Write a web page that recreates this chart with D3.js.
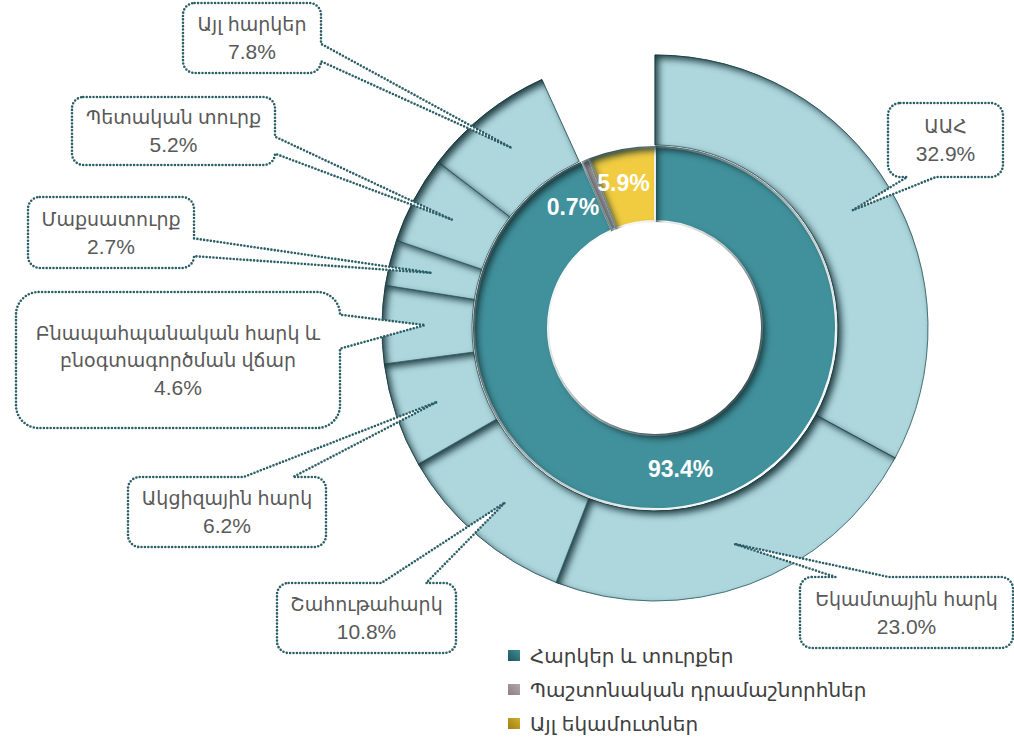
<!DOCTYPE html>
<html>
<head>
<meta charset="utf-8">
<script src="https://cdnjs.cloudflare.com/ajax/libs/d3/7.8.5/d3.min.js"></script>
<style>
  body { margin: 0; background: #fff; }
  svg text { font-family: "Liberation Sans", "DejaVu Sans", sans-serif; }
</style>
</head>
<body>
<script>
// Inner ring: revenue sources (%)
var sourceNames = ["Հարկեր և տուրքեր", "Պաշտոնական դրամաշնորհներ", "Այլ եկամուտներ"];
var sourceValues = [93.4, 0.7, 5.9];
var sourceLabels = ["93.4%", "0.7%", "5.9%"];

// Outer ring: taxes, share of total revenue (%)
var taxNames = [
    ["ԱԱՀ"],
    ["Եկամտային հարկ"],
    ["Շահութահարկ"],
    ["Ակցիզային հարկ"],
    ["Բնապահպանական հարկ և", "բնօգտագործման վճար"],
    ["Մաքսատուրք"],
    ["Պետական տուրք"],
    ["Այլ հարկեր"]
];
var taxValues = [32.9, 23.0, 10.8, 6.2, 4.6, 2.7, 5.2, 7.8];
var taxLabels = ["32.9%", "23.0%", "10.8%", "6.2%", "4.6%", "2.7%", "5.2%", "7.8%"];

// colours
var sourceColors = ["#41919c", "#a99b9e", "#f2cc40"];
var legendColors = [["#1d545b", "#3f8e98"], ["#8c7e81", "#b3a8aa"], ["#9d7f14", "#d2ae2c"]];
var taxColor = "#add6dd";

// callout boxes [x, y, w, h] for each tax, and label nudges for the inner ring
var boxes = [
    [888, 103, 115, 74],
    [800, 577, 213, 71],
    [277, 583, 179, 70],
    [128, 477, 198, 70],
    [16, 292, 324, 136],
    [28, 197, 166, 71],
    [72, 97, 203, 68],
    [183, 3, 138, 70]
];
var innerNudge = [[-4, 0], [-27, 12], [-5, -4]];

var width = 1014, height = 738;
var cx = 655, cy = 328;

var svg = d3.select("body").append("svg")
    .attr("width", width)
    .attr("height", height);

// inner shadow filter
var defs = svg.append("defs");
var f = defs.append("filter").attr("id", "inset")
    .attr("color-interpolation-filters", "sRGB")
    .attr("x", "-10%").attr("y", "-10%").attr("width", "120%").attr("height", "120%");
f.append("feComponentTransfer").attr("in", "SourceAlpha").attr("result", "inv")
    .append("feFuncA").attr("type", "table").attr("tableValues", "1 0");
f.append("feGaussianBlur").attr("in", "inv").attr("stdDeviation", 3.5).attr("result", "blur");
f.append("feOffset").attr("in", "blur").attr("dx", 4).attr("dy", 4).attr("result", "off");
f.append("feFlood").attr("flood-color", "#0f2c31").attr("flood-opacity", 0.9).attr("result", "col");
f.append("feComposite").attr("in", "col").attr("in2", "off").attr("operator", "in").attr("result", "sh");
f.append("feComposite").attr("in", "sh").attr("in2", "SourceAlpha").attr("operator", "in").attr("result", "ish");
var merge = f.append("feMerge");
merge.append("feMergeNode").attr("in", "SourceGraphic");
merge.append("feMergeNode").attr("in", "ish");

legendColors.forEach(function (c, i) {
    var g = defs.append("linearGradient").attr("id", "lg" + i)
        .attr("x1", "0").attr("y1", "1").attr("x2", "1").attr("y2", "0");
    g.append("stop").attr("offset", "0").attr("stop-color", c[0]);
    g.append("stop").attr("offset", "1").attr("stop-color", c[1]);
});

var chart = svg.append("g").attr("transform", "translate(" + cx + "," + cy + ")");

// outer ring, on a 100% scale so the rest stays empty
var outerPie = d3.pie().sort(null)
    .endAngle(2 * Math.PI * d3.sum(taxValues) / 100);
var outerArc = d3.arc().innerRadius(183).outerRadius(273);
var tipArc = d3.arc().innerRadius(230).outerRadius(230);

var outer = outerPie(taxValues);
chart.selectAll(".tax")
    .data(outer)
    .enter().append("path")
    .attr("class", "tax")
    .attr("d", outerArc)
    .attr("fill", taxColor)
    .attr("stroke", "#3a6a70")
    .attr("stroke-width", 0.9)
    .attr("filter", "url(#inset)");

// inner ring
var innerPie = d3.pie().sort(null);
var innerArc = d3.arc().innerRadius(107).outerRadius(181);
var inner = innerPie(sourceValues);
chart.selectAll(".src")
    .data(inner)
    .enter().append("path")
    .attr("class", "src")
    .attr("d", innerArc)
    .attr("fill", function (d, i) { return sourceColors[i]; })
    .attr("stroke", "#fff")
    .attr("stroke-width", 2)
    .attr("filter", "url(#inset)");

chart.selectAll(".srcLabel")
    .data(inner)
    .enter().append("text")
    .attr("class", "srcLabel")
    .attr("transform", function (d, i) {
        var c = innerArc.centroid(d);
        return "translate(" + (c[0] + innerNudge[i][0]) + "," + (c[1] + innerNudge[i][1]) + ")";
    })
    .attr("dy", "0.36em")
    .attr("text-anchor", "middle")
    .style("font-size", "23px")
    .style("font-weight", "bold")
    .style("fill", "#fff")
    .text(function (d, i) { return sourceLabels[i]; });

// callout shape (wedge rounded rectangle)
function callout(x, y, w, h, tx, ty) {
    var r = Math.min(w, h) / 6;
    var dx = tx - (x + w / 2), dy = ty - (y + h / 2);
    var dq = dx * h / w;
    var side;
    if (Math.abs(dy) > Math.abs(dq)) side = dy < 0 ? "t" : "b";
    else side = dx < 0 ? "l" : "r";
    var xa = x + w * (dx > 0 ? 7 : 2) / 12, xb = x + w * (dx > 0 ? 10 : 5) / 12;
    var ya = y + h * (dy > 0 ? 7 : 2) / 12, yb = y + h * (dy > 0 ? 10 : 5) / 12;
    var p = d3.path();
    p.moveTo(x + r, y);
    if (side == "t") { p.lineTo(xa, y); p.lineTo(tx, ty); p.lineTo(xb, y); }
    p.lineTo(x + w - r, y); p.arcTo(x + w, y, x + w, y + r, r);
    if (side == "r") { p.lineTo(x + w, ya); p.lineTo(tx, ty); p.lineTo(x + w, yb); }
    p.lineTo(x + w, y + h - r); p.arcTo(x + w, y + h, x + w - r, y + h, r);
    if (side == "b") { p.lineTo(xb, y + h); p.lineTo(tx, ty); p.lineTo(xa, y + h); }
    p.lineTo(x + r, y + h); p.arcTo(x, y + h, x, y + h - r, r);
    if (side == "l") { p.lineTo(x, yb); p.lineTo(tx, ty); p.lineTo(x, ya); }
    p.lineTo(x, y + r); p.arcTo(x, y, x + r, y, r);
    p.closePath();
    return p.toString();
}

var calls = svg.selectAll(".callout")
    .data(outer)
    .enter().append("g")
    .attr("class", "callout");

calls.append("path")
    .attr("d", function (d, i) {
        var t = tipArc.centroid(d);
        var b = boxes[i];
        return callout(b[0], b[1], b[2], b[3], t[0] + cx, t[1] + cy);
    })
    .attr("fill", "#fff")
    .attr("stroke", "#2b5f66")
    .attr("stroke-width", 2.6)
    .attr("stroke-linecap", "round")
    .attr("stroke-dasharray", "0 3.4");

var lh = 27;
calls.each(function (d, i) {
    var b = boxes[i];
    var lines = taxNames[i].concat([taxLabels[i]]);
    var y0 = b[1] + b[3] / 2 - (lines.length - 1) * lh / 2;
    d3.select(this).selectAll("text")
        .data(lines)
        .enter().append("text")
        .attr("x", b[0] + b[2] / 2)
        .attr("y", function (t, j) { return y0 + j * lh; })
        .attr("dy", "0.36em")
        .attr("text-anchor", "middle")
        .style("font-size", function (t, j) { return j == lines.length - 1 ? "21px" : "19px"; })
        .style("fill", "#595959")
        .text(function (t) { return t; });
});

// legend
var legend = svg.selectAll(".legend")
    .data(sourceNames)
    .enter().append("g")
    .attr("class", "legend")
    .attr("transform", function (d, i) { return "translate(508," + (656 + i * 34) + ")"; });

legend.append("rect")
    .attr("x", 0).attr("y", -6)
    .attr("width", 12).attr("height", 11)
    .attr("fill", function (d, i) { return "url(#lg" + i + ")"; });

legend.append("text")
    .attr("x", 22)
    .attr("dy", "0.36em")
    .style("font-size", "20px")
    .style("fill", "#404040")
    .text(function (d) { return d; });
</script>
</body>
</html>
